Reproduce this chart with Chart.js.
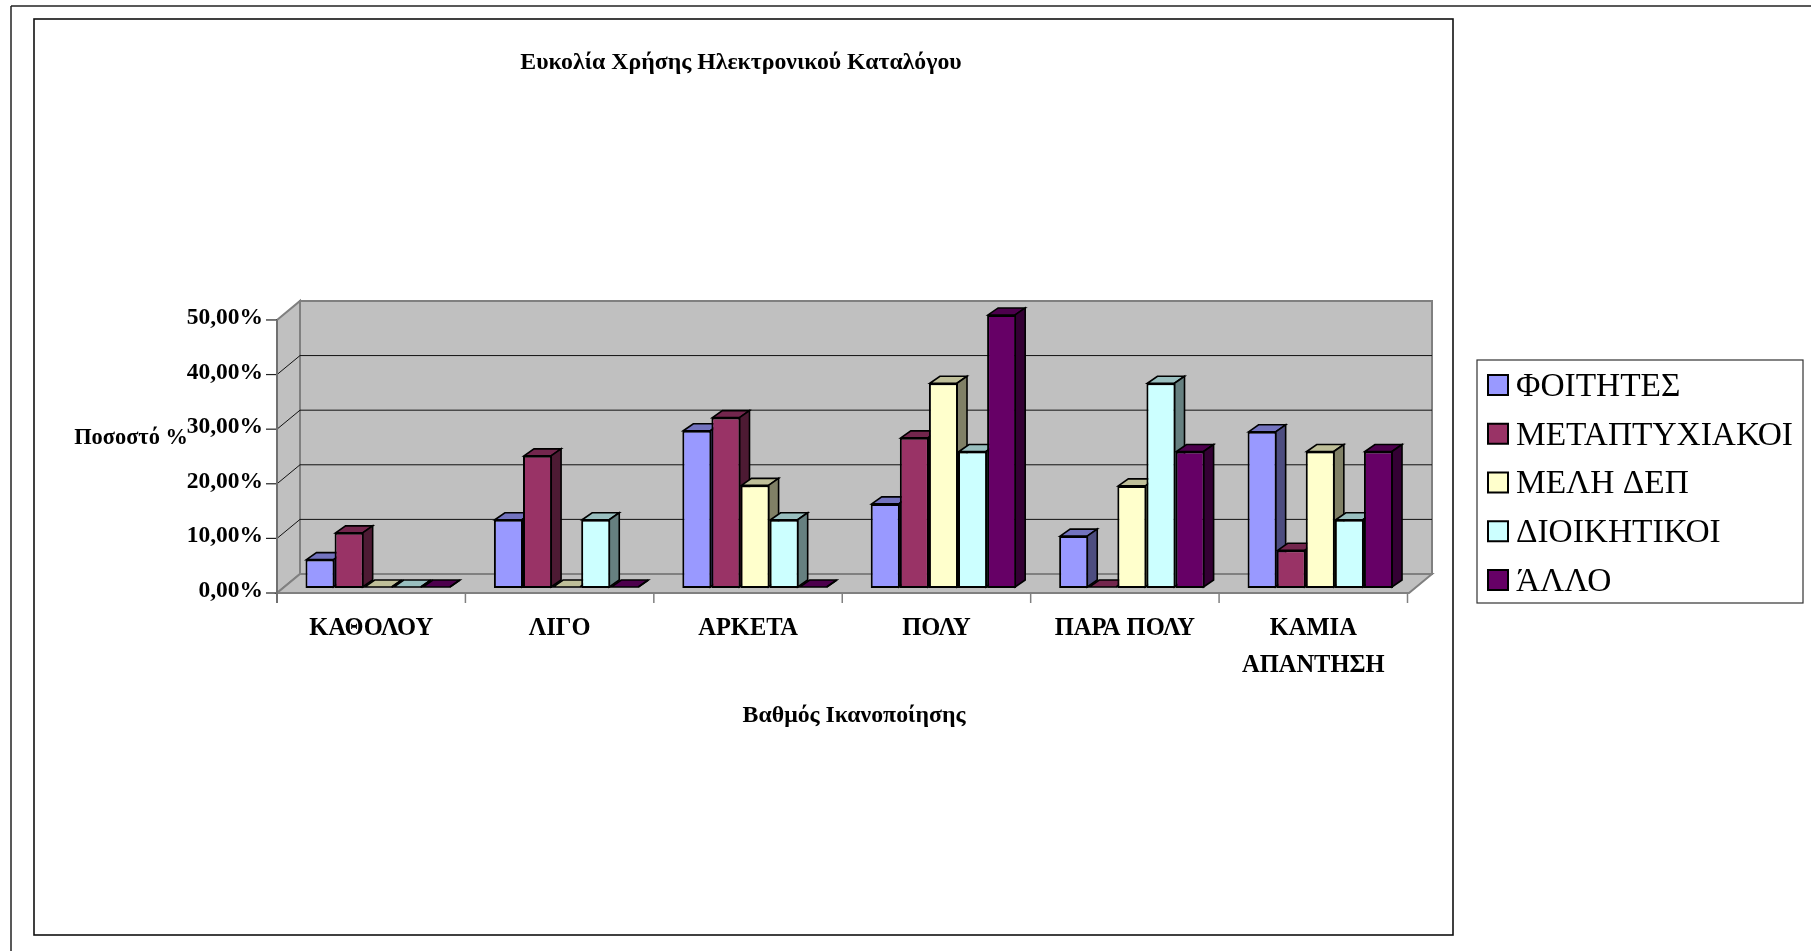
<!DOCTYPE html>
<html lang="el">
<head>
    <meta charset="UTF-8">
    <title>Ευκολία Χρήσης Ηλεκτρονικού Καταλόγου</title>
    <style>
        html, body { margin: 0; padding: 0; background: #fff; overflow: hidden; }
        canvas { display: block; }
    </style>
</head>
<body>
    <canvas id="chart" width="1811" height="951"></canvas>

    <script src="https://cdn.jsdelivr.net/npm/chart.js"></script>
    <script>
        // data
        const categories = ['ΚΑΘΟΛΟΥ', 'ΛΙΓΟ', 'ΑΡΚΕΤΑ', 'ΠΟΛΥ', 'ΠΑΡΑ ΠΟΛΥ', ['ΚΑΜΙΑ', 'ΑΠΑΝΤΗΣΗ']];
        const foitites = [5.2, 12.5, 28.8, 15.4, 9.5, 28.6];
        const metaptyxiakoi = [10.1, 24.2, 31.2, 27.5, 0, 6.9];
        const melhDep = [0, 0, 18.8, 37.5, 18.7, 25];
        const dioikitikoi = [0, 12.5, 12.5, 25, 37.5, 12.5];
        const allo = [0, 0, 0, 50, 25, 25];
        const seriesNames = ['ΦΟΙΤΗΤΕΣ', 'ΜΕΤΑΠΤΥΧΙΑΚΟΙ', 'ΜΕΛΗ ΔΕΠ', 'ΔΙΟΙΚΗΤΙΚΟΙ', 'ΆΛΛΟ'];
        const seriesValues = [foitites, metaptyxiakoi, melhDep, dioikitikoi, allo];
        const seriesColors = ['#9999FF', '#993366', '#FFFFCC', '#CCFFFF', '#660066'];
        const yTickLabels = ['0,00%', '10,00%', '20,00%', '30,00%', '40,00%', '50,00%'];

        const chartTitle = 'Ευκολία Χρήσης Ηλεκτρονικού Καταλόγου';
        const xTitle = 'Βαθμός Ικανοποίησης';
        const yTitle = 'Ποσοστό %';

        const serif = '"Liberation Serif", serif';

        // the bars stand a little behind the front edge of the floor
        const frontDx = -7, frontDy = 5;   // from bar plane to front edge
        const backDx = 16, backDy = -14;   // from bar plane to back wall
        const barDx = 10, barDy = -7;      // depth of one bar
        const wallExtra = 1.5;             // walls run a bit past the last category

        function shade(hex, f) {
            const n = parseInt(hex.slice(1), 16);
            return `rgb(${Math.round((n >> 16) * f)},${Math.round(((n >> 8) & 255) * f)},${Math.round((n & 255) * f)})`;
        }

        function poly(ctx, pts, fill, stroke, width) {
            ctx.beginPath();
            pts.forEach((p, i) => i ? ctx.lineTo(p[0], p[1]) : ctx.moveTo(p[0], p[1]));
            ctx.closePath();
            if (fill) { ctx.fillStyle = fill; ctx.fill(); }
            if (stroke) { ctx.strokeStyle = stroke; ctx.lineWidth = width; ctx.stroke(); }
        }

        function line(ctx, x1, y1, x2, y2, color, width) {
            ctx.beginPath();
            ctx.moveTo(x1, y1);
            ctx.lineTo(x2, y2);
            ctx.strokeStyle = color;
            ctx.lineWidth = width;
            ctx.stroke();
        }

        const box3d = {
            id: 'box3d',
            // move the title over the inner frame instead of the whole canvas
            afterLayout(chart) {
                chart.titleBlock.left = 0;
                chart.titleBlock.right = 1482;
            },
            beforeDraw(chart) {
                const ctx = chart.ctx;
                // outer and inner frames of the sheet
                line(ctx, 11, 6, 1811, 6, '#222', 1.5);
                line(ctx, 11, 6, 11, 951, '#222', 1.5);
                ctx.strokeStyle = '#111';
                ctx.lineWidth = 1.6;
                ctx.strokeRect(34, 19, 1419, 916);
            },
            beforeDatasetsDraw(chart) {
                const ctx = chart.ctx;
                const a = chart.chartArea;
                const y = chart.scales.y;
                const x = chart.scales.x;
                const fl = a.left + frontDx, fr = a.right + frontDx + wallExtra;
                const bl = a.left + backDx, br = a.right + backDx + wallExtra;
                const yTop = y.getPixelForValue(y.max), yBase = y.getPixelForValue(0);

                // back wall, left wall, floor
                poly(ctx, [[bl, yTop + backDy], [br, yTop + backDy], [br, yBase + backDy], [bl, yBase + backDy]], '#C0C0C0', '#808080', 2);
                poly(ctx, [[fl, yTop + frontDy], [bl, yTop + backDy], [bl, yBase + backDy], [fl, yBase + frontDy]], '#C0C0C0', '#808080', 2);
                poly(ctx, [[fl, yBase + frontDy], [bl, yBase + backDy], [br, yBase + backDy], [fr, yBase + frontDy]], '#C0C0C0', '#808080', 2);

                // grid lines on the walls and tick marks, from the y scale
                y.ticks.forEach(t => {
                    const p = y.getPixelForValue(t.value);
                    if (t.value > 0 && t.value < y.max) {
                        line(ctx, fl, p + frontDy, bl, p + backDy, '#111', 1);
                        line(ctx, bl, p + backDy, br, p + backDy, '#111', 1);
                    }
                    line(ctx, fl - 11, p + frontDy, fl, p + frontDy, '#222', 1.2);
                });
                line(ctx, fl, yTop + frontDy, fl, yBase + frontDy + 10, '#707070', 2);

                // category separators below the floor
                const step = x.width / categories.length;
                categories.forEach((c, i) => {
                    const px = x.getPixelForValue(i) + step / 2 + frontDx;
                    line(ctx, px, yBase + frontDy, px, yBase + frontDy + 10, '#808080', 1.5);
                });
            },
            // the bars are drawn below, left to right, so each one hides the side of the one before
            beforeDatasetDraw() {
                return false;
            },
            afterDatasetsDraw(chart) {
                const ctx = chart.ctx;
                chart.data.datasets.forEach((ds, d) => {
                    const color = seriesColors[d];
                    chart.getDatasetMeta(d).data.forEach(bar => {
                        const p = bar.getProps(['x', 'y', 'base', 'width'], true);
                        const l = p.x - p.width / 2 + 1, r = p.x + p.width / 2 - 1;
                        const t = Math.min(p.y, p.base - 1), b = p.base - 1;
                        poly(ctx, [[l, t], [l + barDx, t + barDy], [r + barDx, t + barDy], [r, t]], shade(color, 0.75), '#000', 1.6);
                        poly(ctx, [[r, t], [r + barDx, t + barDy], [r + barDx, b + barDy], [r, b]], shade(color, 0.5), '#000', 1.6);
                        bar.draw(ctx);
                    });
                });
            },
            afterDraw(chart) {
                const ctx = chart.ctx;
                ctx.save();
                ctx.fillStyle = '#000';
                ctx.textBaseline = 'middle';

                // axis titles: the value title is horizontal here
                ctx.textAlign = 'center';
                ctx.font = `bold 23.8px ${serif}`;
                ctx.fillText(xTitle, 854, 716);
                ctx.font = `bold 22.4px ${serif}`;
                ctx.fillText(yTitle, 131, 438);

                // legend box
                ctx.lineWidth = 1.2;
                ctx.strokeStyle = '#333';
                ctx.strokeRect(1477, 360, 326, 243);
                ctx.textAlign = 'left';
                ctx.font = `33.4px ${serif}`;
                seriesNames.forEach((name, i) => {
                    const cy = 385 + i * 48.75;
                    ctx.fillStyle = seriesColors[i];
                    ctx.fillRect(1488, cy - 10, 20, 20);
                    ctx.strokeStyle = '#000';
                    ctx.lineWidth = 2;
                    ctx.strokeRect(1488, cy - 10, 20, 20);
                    ctx.fillStyle = '#000';
                    ctx.fillText(name, 1516, cy + 2);
                });
                ctx.restore();
            }
        };

        new Chart(document.getElementById('chart'), {
            type: 'bar',
            data: {
                labels: categories,
                datasets: seriesNames.map((name, i) => ({
                    label: name,
                    data: seriesValues[i],
                    backgroundColor: seriesColors[i],
                    borderColor: '#000',
                    borderWidth: 2,
                    borderSkipped: false,
                    barPercentage: 1,
                    categoryPercentage: 0.772
                }))
            },
            options: {
                responsive: false,
                animation: false,
                events: [],
                layout: { padding: { left: 0, top: 0, right: 396.5, bottom: 0 } },
                plugins: {
                    legend: { display: false },
                    tooltip: { enabled: false },
                    title: {
                        display: true,
                        text: chartTitle,
                        color: '#000',
                        font: { family: serif, size: 23.8, weight: 'bold' },
                        padding: { top: 49, bottom: 237.4 }
                    }
                },
                scales: {
                    x: {
                        grid: { display: false },
                        border: { display: false },
                        afterFit(scale) { scale.height = 363; },
                        ticks: {
                            autoSkip: false,
                            maxRotation: 0,
                            minRotation: 0,
                            padding: 14,
                            labelOffset: frontDx,
                            color: '#000',
                            font: { family: serif, size: 24.5, weight: 'bold', lineHeight: 1.51 }
                        }
                    },
                    y: {
                        min: 0,
                        max: 50,
                        grid: { display: false, drawTicks: false },
                        border: { display: false },
                        afterFit(scale) { scale.width = 284; },
                        ticks: {
                            stepSize: 10,
                            padding: 21,
                            labelOffset: 3,
                            color: '#000',
                            font: { family: serif, size: 23.5, weight: 'bold' },
                            callback: (v, i) => yTickLabels[i]
                        }
                    }
                }
            },
            plugins: [box3d]
        });
    </script>
</body>
</html>
